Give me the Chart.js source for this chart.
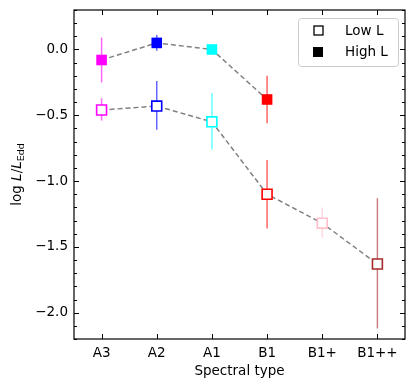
<!DOCTYPE html>
<html lang="en">
<head>
    <meta charset="UTF-8">
    <title>log L/LEdd vs spectral type</title>
    <script src="https://cdn.jsdelivr.net/npm/chart.js"></script>
    <style>
        body { margin: 0; background: white; }
        #wrap { width: 416px; height: 390px; }
    </style>
</head>
<body>
    <div id="wrap"><canvas id="myChart" width="416" height="390"></canvas></div>

    <script>
        // Spectral types along the x axis
        const spectralTypes = ["A3", "A2", "A1", "B1", "B1+", "B1++"];
        const typeColors = ["#ff00ff", "#0000ff", "#00ffff", "#ff0000", "#ffc0cb", "#a52a2a"];

        // Low L sample (all six types)
        const lowL = [-0.46, -0.43, -0.55, -1.10, -1.32, -1.63];
        const lowLErrHi = [-0.37, -0.24, -0.33, -0.84, -1.20, -1.13];
        const lowLErrLo = [-0.54, -0.61, -0.76, -1.36, -1.43, -2.12];

        // High L sample (first four types)
        const highL = [-0.08, 0.05, 0.00, -0.38];
        const highLErrHi = [0.09, 0.11, 0.02, -0.20];
        const highLErrLo = [-0.25, -0.01, -0.02, -0.56];

        const yTicks = [0.0, -0.5, -1.0, -1.5, -2.0];

        function withAlpha(hex, a) {
            const n = parseInt(hex.slice(1), 16);
            return `rgba(${(n >> 16) & 255}, ${(n >> 8) & 255}, ${n & 255}, ${a})`;
        }

        // error bars as two point line segments
        const errDatasets = [];
        function addErrors(values, hi, lo) {
            values.forEach((v, i) => {
                errDatasets.push({
                    data: [{ x: i, y: lo[i] }, { x: i, y: hi[i] }],
                    borderColor: withAlpha(typeColors[i], 0.6),
                    borderWidth: 1.5,
                    pointRadius: 0,
                    order: 5
                });
            });
        }
        addErrors(lowL, lowLErrHi, lowLErrLo);
        addErrors(highL, highLErrHi, highLErrLo);

        const lowDataset = {
            label: "Low L",
            data: lowL.map((v, i) => ({ x: i, y: v })),
            borderColor: "gray",
            borderWidth: 1.5,
            borderDash: [5, 3],
            pointStyle: "rect",
            pointRadius: 7,
            pointBorderWidth: 1.6,
            pointBackgroundColor: "white",
            pointBorderColor: typeColors.slice(0, lowL.length),
            order: 1
        };
        const highDataset = {
            label: "High L",
            data: highL.map((v, i) => ({ x: i, y: v })),
            borderColor: "gray",
            borderWidth: 1.5,
            borderDash: [5, 3],
            pointStyle: "rect",
            pointRadius: 7.5,
            pointBorderWidth: 0,
            pointBackgroundColor: typeColors.slice(0, highL.length),
            pointBorderColor: typeColors.slice(0, highL.length),
            order: 1
        };

        // ticks drawn inward, axis frame, y title and legend
        const frame = {
            id: "frame",
            afterDraw(chart) {
                const ctx = chart.ctx;
                const a = chart.chartArea;
                const xs = chart.scales.x, ys = chart.scales.y;
                ctx.save();
                ctx.strokeStyle = "black";
                ctx.lineWidth = 1;
                // major x ticks, bottom and top
                spectralTypes.forEach((t, i) => {
                    const px = Math.round(xs.getPixelForValue(i)) + 0.5;
                    ctx.beginPath();
                    ctx.moveTo(px, a.bottom); ctx.lineTo(px, a.bottom - 5);
                    ctx.moveTo(px, a.top); ctx.lineTo(px, a.top + 5);
                    ctx.stroke();
                });
                // y ticks, minor every 0.1
                for (let k = -22; k <= 3; k++) {
                    const py = Math.round(ys.getPixelForValue(k / 10)) + 0.5;
                    const len = (k % 5 === 0) ? 5 : 3;
                    ctx.beginPath();
                    ctx.moveTo(a.left, py); ctx.lineTo(a.left + len, py);
                    ctx.moveTo(a.right, py); ctx.lineTo(a.right - len, py);
                    ctx.stroke();
                }
                // frame
                ctx.lineWidth = 1.2;
                ctx.strokeRect(a.left, a.top, a.right - a.left, a.bottom - a.top);

                // y axis title: log L/L_Edd
                ctx.fillStyle = "black";
                ctx.translate(21, (a.top + a.bottom) / 2);
                ctx.rotate(-Math.PI / 2);
                ctx.textBaseline = "alphabetic";
                const parts = [
                    ["log ", "13.5px 'DejaVu Sans'", 0],
                    ["L", "italic 13.5px 'DejaVu Sans'", 0],
                    ["/", "13.5px 'DejaVu Sans'", 0],
                    ["L", "italic 13.5px 'DejaVu Sans'", 0],
                    ["Edd", "9.5px 'DejaVu Sans'", 3]
                ];
                let w = 0;
                parts.forEach(p => { ctx.font = p[1]; w += ctx.measureText(p[0]).width; });
                let x = -w / 2;
                parts.forEach(p => {
                    ctx.font = p[1];
                    ctx.fillText(p[0], x, p[2]);
                    x += ctx.measureText(p[0]).width;
                });
                ctx.setTransform(1, 0, 0, 1, 0, 0);

                // legend box
                const lx = 298, ly = 18, lw = 100, lh = 48;
                ctx.beginPath();
                ctx.roundRect(lx + 0.5, ly + 0.5, lw, lh, 3);
                ctx.fillStyle = "rgba(255,255,255,0.8)";
                ctx.fill();
                ctx.strokeStyle = "#cccccc";
                ctx.lineWidth = 1;
                ctx.stroke();
                ctx.font = "13.5px 'DejaVu Sans'";
                ctx.textBaseline = "middle";
                ctx.fillStyle = "black";
                // hollow square
                ctx.lineWidth = 1.3;
                ctx.strokeStyle = "black";
                ctx.strokeRect(314, 26, 9, 9);
                ctx.fillText("Low L", 345, 31);
                ctx.fillRect(313, 47, 10, 10);
                ctx.fillText("High L", 345, 52);
                ctx.restore();
            }
        };

        const ctx = document.getElementById("myChart").getContext("2d");
        new Chart(ctx, {
            type: "line",
            data: {
                datasets: [lowDataset, highDataset].concat(errDatasets)
            },
            options: {
                responsive: false,
                animation: false,
                layout: { padding: { top: 10, right: 11, left: 0, bottom: 0 } },
                plugins: {
                    legend: { display: false },
                    tooltip: { enabled: false }
                },
                scales: {
                    x: {
                        type: "linear",
                        min: -0.5,
                        max: 5.5,
                        afterBuildTicks: scale => {
                            scale.ticks = spectralTypes.map((t, i) => ({ value: i }));
                        },
                        afterFit: scale => {
                            scale.height = 51;
                            scale.paddingLeft = 0;
                            scale.paddingRight = 0;
                        },
                        ticks: {
                            callback: v => spectralTypes[v],
                            color: "black",
                            font: { family: "DejaVu Sans", size: 13.5 },
                            padding: 6,
                            maxRotation: 0
                        },
                        grid: { display: false, drawTicks: false },
                        border: { display: false },
                        title: {
                            display: true,
                            text: "Spectral type",
                            color: "black",
                            font: { family: "DejaVu Sans", size: 13.5 },
                            padding: { top: 2, bottom: 10 }
                        }
                    },
                    y: {
                        min: -2.2,
                        max: 0.3,
                        afterBuildTicks: scale => {
                            scale.ticks = yTicks.map(v => ({ value: v }));
                        },
                        afterFit: scale => {
                            scale.width = 74;
                            scale.paddingTop = 0;
                            scale.paddingBottom = 0;
                        },
                        ticks: {
                            callback: v => (v < 0 ? "\u2212" : "") + Math.abs(v).toFixed(1),
                            color: "black",
                            font: { family: "DejaVu Sans", size: 13.5 },
                            padding: 6
                        },
                        grid: { display: false, drawTicks: false },
                        border: { display: false }
                    }
                }
            },
            plugins: [frame]
        });
    </script>
</body>
</html>
